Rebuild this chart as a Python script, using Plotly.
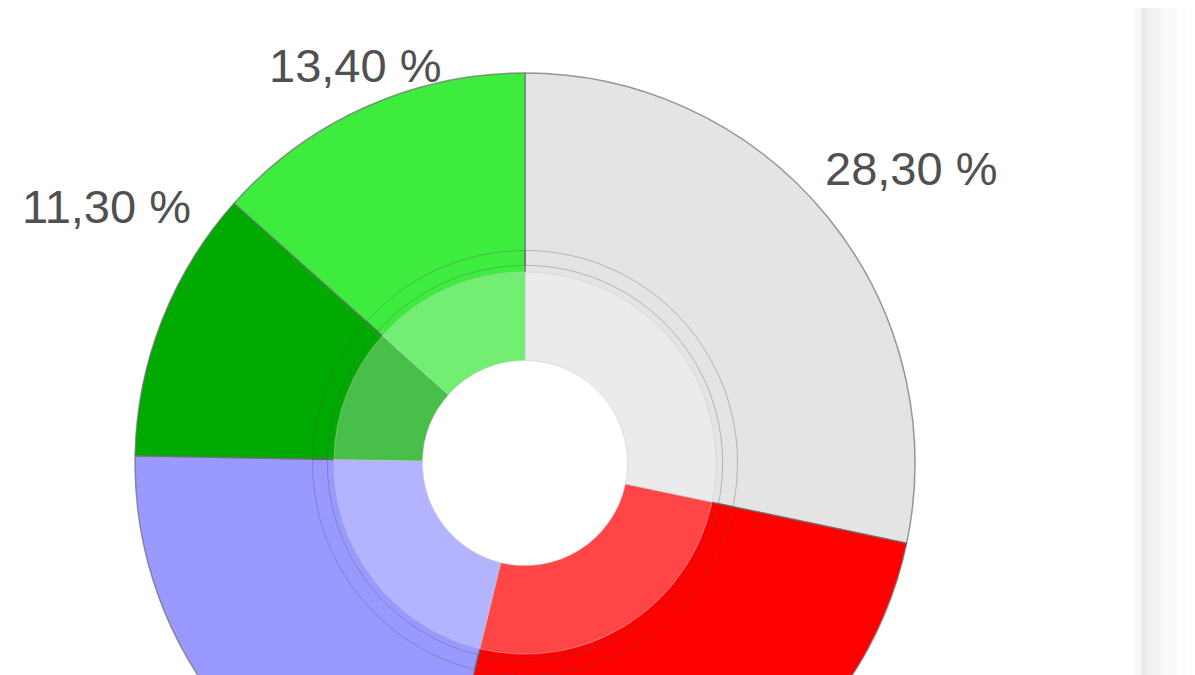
import plotly.graph_objects as go

# slices, clockwise from 12 o'clock
labels = ["Gris", "Rouge", "Bleu", "Vert foncé", "Vert clair"]
values = [28.3, 25.5, 21.5, 11.3, 13.4]
outer_colors = ["#e4e4e4", "#ff0000", "#9999ff", "#00aa00", "#3eec3e"]
inner_colors = ["#ebebeb", "#ff4545", "#b3b3ff", "#48bf48", "#72ef72"]

# where the visible value labels sit (page pixels); the other two fall below the view
label_pos = {"Gris": (911, 168), "Vert foncé": (106, 207), "Vert clair": (355, 65)}

W, H = 1195, 880
OFF = 8  # body margin of the page
cx, cy, R = 525 - OFF, 463 - OFF, 390


def dom(r):
    return dict(x=[(cx - r) / W, (cx + r) / W],
                y=[1 - (cy + r) / H, 1 - (cy - r) / H])


fig = go.Figure()
fig.add_trace(go.Pie(
    labels=labels, values=values, sort=False, direction="clockwise",
    domain=dom(R), hole=0.45,
    marker=dict(colors=outer_colors, line=dict(color="rgba(110,110,110,0.7)", width=1.5)),
    textinfo="none", showlegend=False,
))
# thin ring lines between the two bands
fig.add_trace(go.Pie(
    labels=labels, values=values, sort=False, direction="clockwise",
    domain=dom(R * 0.545), hole=0.93,
    marker=dict(colors=["rgba(0,0,0,0)"] * len(values),
                line=dict(color="rgba(90,90,90,0.35)", width=1)),
    textinfo="none", hoverinfo="skip", showlegend=False,
))
fig.add_trace(go.Pie(
    labels=labels, values=values, sort=False, direction="clockwise",
    domain=dom(R * 0.49), hole=0.537,
    marker=dict(colors=inner_colors, line=dict(color="rgba(200,200,200,0.5)", width=1)),
    textinfo="none", hoverinfo="skip", showlegend=False,
))

for lab, v in zip(labels, values):
    if lab not in label_pos:
        continue
    px, py = label_pos[lab]
    fig.add_annotation(x=(px - OFF) / W, y=1 - (py - OFF) / H, xref="paper", yref="paper",
                       xanchor="center", yanchor="middle",
                       text=f"{v:.2f} %".replace(".", ","), showarrow=False,
                       font=dict(family="Liberation Sans, Arial", size=47, color="#505050"))

# panel edge on the right
strip = [(1135, 1141, "#f7f7f7"), (1141, 1147, "#ebebeb"), (1147, 1159, "#f2f2f2"),
         (1159, 1165, "#f7f7f7"), (1165, 1177, "#fafafa"), (1177, 1210, "#fdfdfd")]
for x0, x1, c in strip:
    fig.add_shape(type="rect", xref="paper", yref="paper", x0=(x0 - OFF) / W,
                  x1=(x1 - OFF) / W, y0=0, y1=1, fillcolor=c, line_width=0, layer="below")

fig.update_layout(width=W, height=H, margin=dict(t=0, l=0, r=0, b=0),
                  paper_bgcolor="white")
fig.write_html("out.html")
